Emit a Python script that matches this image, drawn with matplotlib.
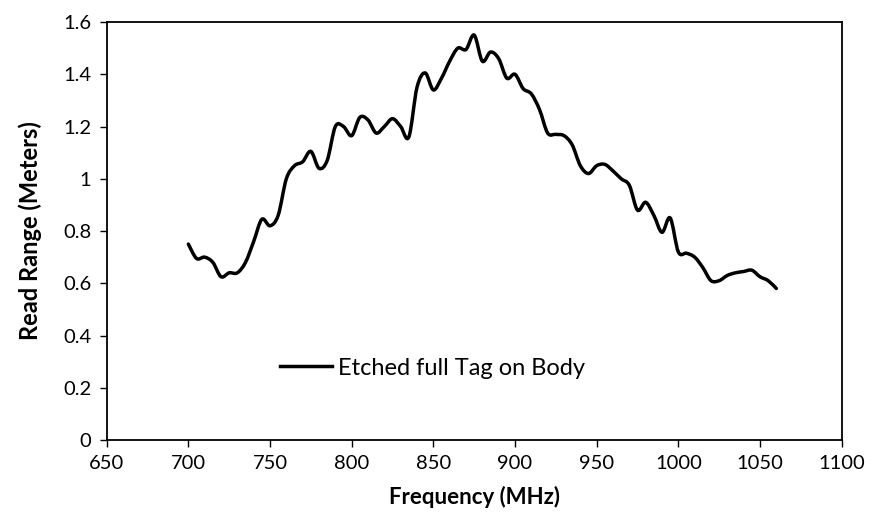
import numpy as np
import matplotlib
matplotlib.use('Agg')
import matplotlib.pyplot as plt
from matplotlib.path import Path
from matplotlib.patches import PathPatch
from matplotlib.lines import Line2D

plt.rcParams['font.family'] = ['Lato', 'DejaVu Sans']

# Read range vs frequency, sampled every 5 MHz
freq = [700, 705, 710, 715, 720, 725, 730, 735, 740, 745,
        750, 755, 760, 765, 770, 775, 780, 785, 790, 795,
        800, 805, 810, 815, 820, 825, 830, 835, 840, 845,
        850, 855, 860, 865, 870, 875, 880, 885, 890, 895,
        900, 905, 910, 915, 920, 925, 930, 935, 940, 945,
        950, 955, 960, 965, 970, 975, 980, 985, 990, 995,
        1000, 1005, 1010, 1015, 1020, 1025, 1030, 1035, 1040, 1045,
        1050, 1055, 1060]
read_range = [0.75, 0.695, 0.70, 0.68, 0.625, 0.64, 0.64, 0.68, 0.76, 0.845,
              0.82, 0.86, 1.00, 1.05, 1.065, 1.105, 1.04, 1.07, 1.20, 1.20,
              1.165, 1.235, 1.225, 1.175, 1.20, 1.23, 1.20, 1.16, 1.35, 1.405,
              1.34, 1.385, 1.45, 1.50, 1.495, 1.55, 1.45, 1.485, 1.46, 1.385,
              1.40, 1.345, 1.325, 1.265, 1.175, 1.17, 1.165, 1.13, 1.05, 1.02,
              1.05, 1.055, 1.03, 1.00, 0.975, 0.88, 0.91, 0.86, 0.795, 0.85,
              0.72, 0.715, 0.70, 0.66, 0.61, 0.61, 0.63, 0.64, 0.645, 0.65,
              0.625, 0.61, 0.58]
series_name = 'Etched full Tag on Body'


def smooth_path(x, y):
    # Excel-style smoothed line: cubic Bezier segments, Catmull-Rom tangents
    pts = np.column_stack([x, y]).astype(float)
    ext = np.vstack([pts[0], pts, pts[-1]])
    verts = [pts[0]]
    codes = [Path.MOVETO]
    for i in range(1, len(ext) - 2):
        p0, p1, p2, p3 = ext[i - 1], ext[i], ext[i + 1], ext[i + 2]
        c1 = p1 + (p2 - p0) / 6.0
        c2 = p2 - (p3 - p1) / 6.0
        verts += [c1, c2, p2]
        codes += [Path.CURVE4] * 3
    return Path(verts, codes)


fig = plt.figure(figsize=(8.73, 5.29), dpi=100)
ax = fig.add_axes([0.1222, 0.1682, 0.8419, 0.7902])

patch = PathPatch(smooth_path(freq, read_range), facecolor='none',
                  edgecolor='black', linewidth=2.5, capstyle='round',
                  joinstyle='round')
ax.add_patch(patch)

ax.set_xlim(650, 1100)
ax.set_ylim(0, 1.6)
ax.set_xticks(np.arange(650, 1101, 50))
ax.set_yticks(np.arange(0, 1.61, 0.2))
ax.set_yticklabels(['0', '0.2', '0.4', '0.6', '0.8', '1', '1.2', '1.4', '1.6'])

for s in ax.spines.values():
    s.set_linewidth(1.3)
    s.set_color('black')
ax.tick_params(axis='both', direction='out', length=5, width=1.0,
               labelsize=14.5, colors='black', pad=6)

ax.set_xlabel('Frequency (MHz)', fontsize=16, fontweight='bold', labelpad=10)
ax.set_ylabel('Read Range (Meters)', fontsize=17, fontweight='bold', labelpad=15)

handle = Line2D([], [], color='black', linewidth=2.5)
ax.legend([handle], [series_name], loc='center left',
          bbox_to_anchor=(0.2235, 0.172), borderaxespad=0, frameon=False,
          fontsize=17, handlelength=2.2, handletextpad=0.25)

fig.savefig('out.png', dpi=100)
